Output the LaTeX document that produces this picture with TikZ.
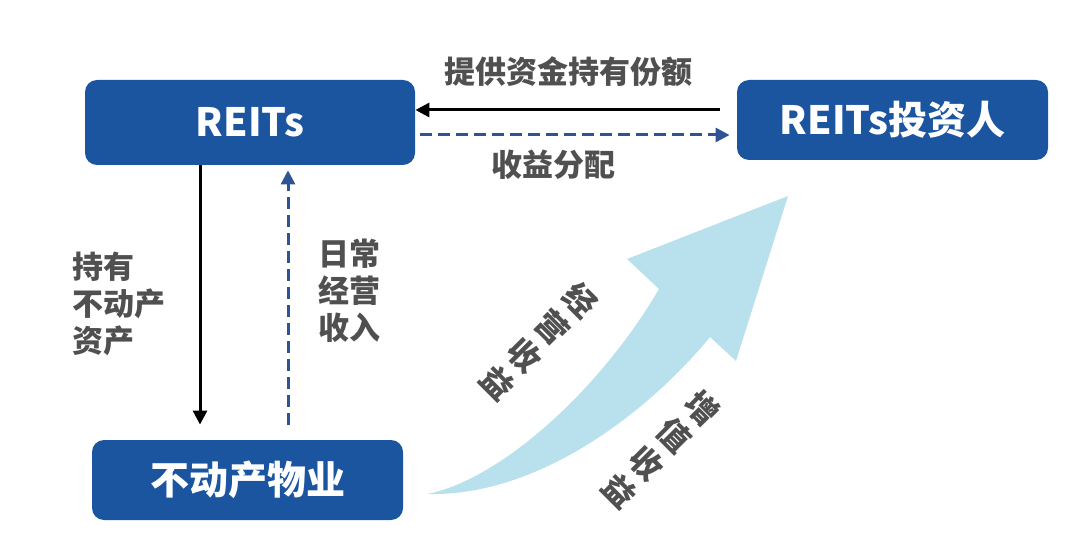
\documentclass[tikz,border=0pt]{standalone}
\usepackage{fontspec}
\setmainfont{Noto Sans CJK SC}
\usetikzlibrary{arrows.meta}
\definecolor{boxblue}{RGB}{27,85,160}
\definecolor{dashblue}{RGB}{47,84,150}
\definecolor{labelgray}{RGB}{80,80,80}
\definecolor{arrowcyan}{RGB}{185,225,237}
\begin{document}
\begin{tikzpicture}[x=0.5pt,y=-0.5pt,inner sep=0pt,minimum size=0mm,
  box/.style={fill=boxblue,rounded corners=6pt,text=white,font=\bfseries\fontsize{19.5}{22}\selectfont},
  lbl/.style={text=labelgray,font=\bfseries\fontsize{15.5}{18.5}\selectfont,align=left},
  tilt/.style={text=labelgray,font=\bfseries\fontsize{16}{19.5}\selectfont,align=center,rotate=-45},
  flow/.style={line width=1.5pt,-{Triangle[length=7pt,width=7pt]}},
  back/.style={line width=1.5pt,dashblue,dash pattern=on 6pt off 3pt,-{Triangle[length=7pt,width=7pt]}}]

\useasboundingbox (0,0) rectangle (1080,539);

\fill[arrowcyan] (427,494) .. controls (500,480) and (600,390) .. (659,289) -- (627,259) -- (788,196) -- (736,361) -- (710,337) .. controls (650,410) and (540,497) .. cycle;

\node[box,minimum width=165pt,minimum height=42.5pt] (reits) at (250,122.5) {REITs};
\node[box,minimum width=155.5pt,minimum height=40pt] (inv) at (892.5,120) {REITs投资人};
\node[box,minimum width=155.5pt,minimum height=40pt] (prop) at (247.5,480) {不动产物业};

\draw[flow] ([xshift=-8.5pt,yshift=5pt]inv.west) -- ([yshift=6.25pt]reits.east);
\draw[back] ([xshift=2.5pt,yshift=-6.25pt]reits.east) -- ([xshift=-3.5pt,yshift=-7.5pt]inv.west);

\draw[flow] ([xshift=-25pt]reits.south) -- ([xshift=-23.75pt,yshift=7.5pt]prop.north);
\draw[back] ([xshift=20.25pt,yshift=7.5pt]prop.north) -- ([xshift=19pt,yshift=-2.5pt]reits.south);

\node[lbl] (fund) at (568,72) {提供资金持有份额};
\node[lbl] (dist) at (553,165) {收益分配};

\node[lbl,anchor=west] (hold) at (72,304) {持有\\不动产\\资产};
\node[lbl,anchor=west] (income) at (318,291) {日常\\经营\\收入};

\node[tilt] (oper) at (539,341) {经\\营\\收\\益};
\node[tilt] (gain) at (661,449) {增\\值\\收\\益};

\end{tikzpicture}
\end{document}
